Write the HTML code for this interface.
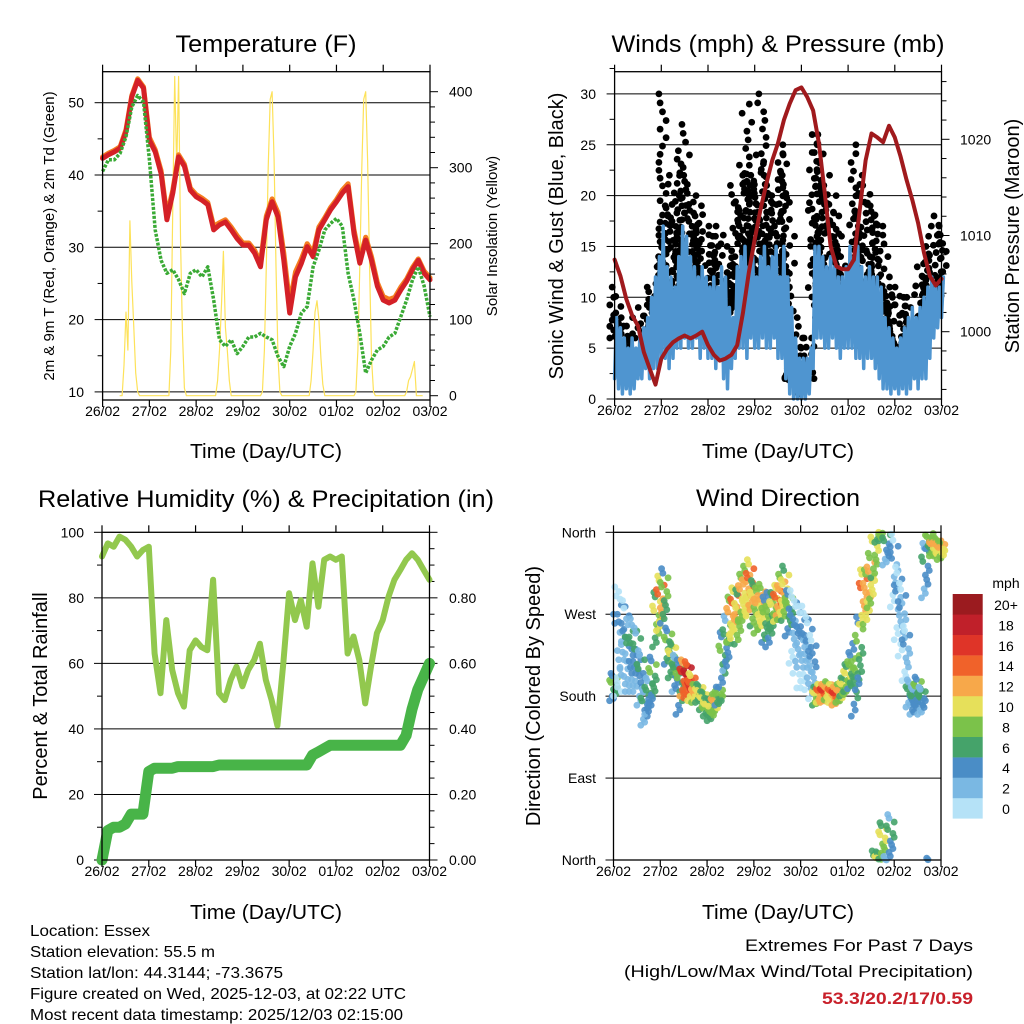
<!DOCTYPE html>
<html><head><meta charset="utf-8"><style>
html,body{margin:0;padding:0;background:#fff;}
svg{display:block;font-family:"Liberation Sans",sans-serif;}
</style></head><body>
<svg id="fig" width="1024" height="1024" viewBox="0 0 1024 1024" xmlns="http://www.w3.org/2000/svg">
<rect width="1024" height="1024" fill="#fff"/>
<g id="layer"></g>
</svg>
<script>
// ---------- DATA ----------
const dayLabels = ["26/02","27/02","28/02","29/02","30/02","01/02","02/02","03/02"];
const temp2m = [42.3,42.8,43.2,43.7,46,50.8,53.1,52,44.8,43.2,40.2,33.8,37.5,42.5,41.2,37.9,37,36.5,35.9,32.4,33.1,33.5,32.4,31.2,30.3,30.3,29.2,27.3,33.8,36.3,34.2,28.2,20.9,25.9,27.8,30.1,28.7,32.4,33.8,35.2,36.3,37.5,38.4,31.9,27.8,31,28.2,24.6,22.7,22.3,22.7,24.1,25.3,26.9,28.2,26.4,25.5];
const temp9m = [42.5,43,43.4,43.9,46.3,51,53.3,52.2,45.2,43.5,40.6,34.4,37.9,42.8,41.5,38.2,37.3,36.8,36.2,32.9,33.4,33.8,32.8,31.6,30.6,30.6,29.6,27.9,34.3,36.7,34.8,29.2,22.2,26.6,28.4,30.5,29.2,32.8,34.1,35.5,36.6,37.9,38.8,32.4,28.4,31.4,28.7,25.1,23.2,22.8,23.1,24.5,25.6,27.2,28.4,26.7,25.8];
const dewpt = [40.5,42.1,42.1,43,45.3,49.4,51,50.1,42.1,32.4,28.2,26.4,26.9,25.5,23.6,26.4,26.9,25.9,27.3,22.7,17.2,16.3,17.2,15.3,16.3,17.6,17.6,18.1,17.6,17.2,14.9,13.5,16.3,18.1,20.9,21.8,27.3,29.6,32.4,33.3,34,32.9,26.4,22.7,18.1,12.6,14.4,15.8,16.3,17.6,18.1,20.4,22.7,25.5,27.3,24.6,20.4];
const solar = [
 0,40,110,60,230,150,90,30,5,0,
 0,60,250,420,300,420,200,80,10,0,
 0,20,60,120,190,90,60,20,0,0,
 5,60,170,300,390,400,310,170,50,5,
 0,20,60,110,125,100,50,15,0,0,
 5,60,170,300,390,400,310,170,50,5,
 0,0,5,20,25,35,45,0,0,0];
const windHi = [8,7,6,5,6,5,6, 7,8,10,12,14,17, 13,12,11,14,17,16, 14,13,12,13,12,11, 12,11,13,12,9,8, 13,14,15,13,14,12, 14,15,13,14,15,12, 15,12,9,6,4,4, 4,5,15,15,14,13, 14,13,12,12,13,15, 14,15,13,12,13,12, 12,11,8,7,6,5, 6,7,8,9,8,9, 10,11,12,11,11,12];
const windLo = [2,1,0.5,1,0.5,1,2, 2,3,2,3,3,4, 4,3,4,5,5,6, 5,5,6,4,5,4, 4,3,4,2,1,3, 4,5,5,4,6,5, 5,6,5,5,6,4, 4,2,0.5,0,0,0, 0,0.5,3,6,6,5, 5,6,5,4,5,5, 5,4,4,3,4,4, 3,2,1,1,0.5,1, 0.5,1,0.5,1,2,1, 2,2,4,6,7,8];
const gustHi = [11,10,8,7,8,6,7, 9,9,11,13,14,30, 19,18,22,20,27,24, 22,20,18,19,17,16, 16,15,17,15,13,14, 21,22,23,29,22,21, 24,30,22,21,20,25, 24,22,16,8,5,6, 6,6,26,26,25,22, 21,20,18,16,14,13, 18,25,22,20,21,19, 18,17,14,12,11,10, 11,10,8,10,9,12, 13,15,16,17,18,17];
const gustLo = [6,5,4,3,4,3,4, 5,5,6,6,7,8, 9,8,9,10,11,12, 11,10,11,9,10,8, 8,7,8,6,5,6, 9,10,10,9,11,10, 11,11,10,10,11,9, 8,5,2,1,0.5,1, 1,2,8,11,11,10, 10,10,9,8,9,9, 9,9,8,7,8,8, 7,5,3,3,2,2, 2,3,2,3,4,3, 5,5,7,9,10,11];
const pressure = [1007.5,1005.8,1003.4,1001.7,1000.6,997.9,996.2,994.5,997.2,998.2,998.9,999.3,999.6,999.3,999.6,1000,998.6,997.6,997,997.2,997.6,998.6,1002,1006.2,1009.6,1012.7,1015.4,1017.8,1019.6,1022,1023.7,1025.1,1025.4,1024.4,1023,1019.6,1014.4,1008.9,1006.8,1006.5,1006.5,1007.5,1012.7,1017.8,1020.6,1020.2,1019.7,1021.4,1020.2,1018.2,1015.8,1013.7,1011.3,1008.2,1005.8,1004.8,1005.5];
const rh = [92.6,96.6,95.6,98.7,97.7,95.6,92.6,94.6,95.6,63,50.9,73.2,58,50.9,46.8,64,67,65,64,85.5,50.9,48.8,55,59,53,58,61,66,55,48.8,41,60,81.4,73.2,79.3,71.2,90.5,77.3,91.6,92.6,91.6,92.6,63,68.2,61,47.8,59,69.2,73.2,80.4,85.5,88.5,91.6,93.6,91.6,88.5,85.5];
const precip = [0,0.09,0.10,0.10,0.11,0.14,0.14,0.14,0.27,0.28,0.28,0.28,0.28,0.285,0.285,0.285,0.285,0.285,0.285,0.285,0.29,0.29,0.29,0.29,0.29,0.29,0.29,0.29,0.29,0.29,0.29,0.29,0.29,0.29,0.29,0.29,0.32,0.33,0.34,0.35,0.35,0.35,0.35,0.35,0.35,0.35,0.35,0.35,0.35,0.35,0.35,0.35,0.38,0.46,0.52,0.56,0.60];
const dirCenter = [190,240,245,235,225,225,220,200,168,180,198,264,282,290,235,220,205,190,200,198,190,183,183,175,168,165,172,180,220,238,264,274,267,289,293,300,282,274,278,264,264,274,282,289,293,271,256,245,234,234,227,212,180,183,183,186,183,180,183,190,200,208,198,227,289,289,307,340,359,21,344,25,318,282,264,227,183,175,186,175,318,352,344,344,340];
const dirSpread = [15,60,50,50,40,40,35,30,20,20,25,30,30,30,20,20,20,30,20,20,15,10,10,10,10,12,10,10,30,30,25,25,30,25,30,30,25,25,25,25,30,20,20,25,30,25,40,40,45,45,40,35,10,10,10,10,10,10,10,10,15,20,40,40,30,30,30,30,10,20,20,25,40,40,40,30,15,15,15,15,30,10,10,10,10];
const dirSpeed = [6,2,3,3,4,4,4,4,4,5,6,8,12,7,7,8,5,6,15,16,12,11,8,9,8,8,10,7,6,5,11,12,9,10,11,13,9,10,11,7,6,8,13,11,9,6,2,3,2,2,3,3,9,13,14,11,12,14,10,9,9,7,6,6,12,11,10,9,8,9,4,5,2,2,2,2,4,5,6,4,4,7,10,11,10];
const speedBinColors = ["#b5e2f7","#7ab8e3","#4a8dc6","#45a36a","#7bc24a","#e6e05a","#f7a84a","#f0622a","#df3428","#c0202a","#9b1b1f"];
const speedBinLabels = ["0","2","4","6","8","10","12","14","16","18","20+"];

// ---------- HELPERS ----------
const NS="http://www.w3.org/2000/svg";
const layer=document.getElementById('layer');
function mk(tag,attrs,parent){const e=document.createElementNS(NS,tag);for(const k in attrs)e.setAttribute(k,attrs[k]);(parent||layer).appendChild(e);return e;}
function txt(s,x,y,size,anchor,parent,extra){const e=mk('text',Object.assign({x:x,y:y,'font-size':size,'text-anchor':anchor||'start',fill:'#000'},extra||{}),parent);e.textContent=s;return e;}
function grp(name){const g=mk('g',{});return g;}
function jit(a,b){return ((a*a*5+a*3+b*7+ (a*b)%4)%9)-4;}

function panelFrame(g,P){
  mk('rect',{x:P.x0,y:P.y0,width:P.x1-P.x0,height:P.y1-P.y0,fill:'none',stroke:'#000','stroke-width':1.3},g);
  for(let d=0;d<=7;d++){const x=P.x0+(P.x1-P.x0)*d/7;
    mk('line',{x1:x,y1:P.y0,x2:x,y2:P.y0-7,stroke:'#000','stroke-width':1.2},g);
    mk('line',{x1:x,y1:P.y1,x2:x,y2:P.y1+7,stroke:'#000','stroke-width':1.2},g);
    const t=txt(dayLabels[d],x,P.y1+16,14,'middle',g);
    
    
  }
}
function tx(P,h){return P.x0+(P.x1-P.x0)*h/168;}
function poly(pts,attrs,g){return mk('polyline',Object.assign({points:pts.map(p=>p[0].toFixed(1)+','+p[1].toFixed(1)).join(' '),fill:'none','stroke-linejoin':'round','stroke-linecap':'round'},attrs),g);}

// ---------- PANEL 1 ----------
{
 const P={x0:102.6,x1:430,y0:71.7,y1:400};
 const yT=v=>102.7+(50-v)*7.23;
 const yS=v=>395.7-v*0.76;
 const g=grp('temperature-panel');
 txt('Temperature (F)',266,52,24,'middle',g,{textLength:181,lengthAdjust:'spacingAndGlyphs'});
 for(let v=10;v<=50;v+=10){const y=yT(v);mk('line',{x1:P.x0,y1:y,x2:P.x1,y2:y,stroke:'#000','stroke-width':1},g);
   mk('line',{x1:P.x0,y1:y,x2:P.x0-8,y2:y,stroke:'#000'},g);txt(String(v),84,y+5,14,'end',g);}
 for(let v=15;v<=55;v+=10){const y=yT(v);if(y>P.y0)mk('line',{x1:P.x0,y1:y,x2:P.x0-5,y2:y,stroke:'#000'},g);}
 for(let v=0;v<=400;v+=20){const y=yS(v);if(y<P.y0)continue;mk('line',{x1:P.x1,y1:y,x2:P.x1+(v%100?5:8),y2:y,stroke:'#000'},g);
   if(v%100===0)txt(String(v),449,y+5,14,'start',g);}
 const sp=[];
 for(let d=0;d<7;d++){sp.push([tx(P,d*24+9),yS(0)]);for(let k=0;k<10;k++)sp.push([tx(P,d*24+10+k),yS(solar[d*10+k])]);sp.push([tx(P,d*24+20),yS(0)]);}
 const sl=poly(sp,{stroke:'#fde25a','stroke-width':1.2},g);
 
 const pT=a=>a.map((v,i)=>[tx(P,i*3),yT(v)]);
 const o=poly(pT(temp9m),{stroke:'#f47d20','stroke-width':5},g);
 
 const r=poly(pT(temp2m),{stroke:'#d42027','stroke-width':5},g);
 
 const gr=poly(pT(dewpt),{stroke:'#3aaa35','stroke-width':3.5,'stroke-dasharray':'3,1.5','stroke-linecap':'butt'},g);
 
 panelFrame(g,P);
 txt('Time (Day/UTC)',266,458,20,'middle',g,{textLength:152,lengthAdjust:'spacingAndGlyphs'});
 txt('2m & 9m T (Red, Orange) & 2m Td (Green)',0,0,15,'middle',g,{transform:'translate(54,236) rotate(-90)'});
 txt('Solar Insolation (Yellow)',0,0,15,'middle',g,{transform:'translate(497,236) rotate(-90)'});
}

// ---------- PANEL 2 ----------
{
 const P={x0:614.6,x1:941.5,y0:71.7,y1:399};
 const yW=v=>399-v*10.17;
 const yP=v=>139.3+(1020-v)*9.62;
 const g=grp('winds-panel');
 txt('Winds (mph) & Pressure (mb)',778,52,24,'middle',g,{textLength:333,lengthAdjust:'spacingAndGlyphs'});
 for(let v=0;v<=30;v+=5){const y=yW(v);if(v>0)mk('line',{x1:P.x0,y1:y,x2:P.x1,y2:y,stroke:'#000','stroke-width':1},g);
   mk('line',{x1:P.x0,y1:y,x2:P.x0-8,y2:y,stroke:'#000'},g);txt(String(v),596,y+5,14,'end',g);}
 for(let v=2.5;v<=32.5;v+=5){mk('line',{x1:P.x0,y1:yW(v),x2:P.x0-5,y2:yW(v),stroke:'#000'},g);}
 for(let v=994;v<=1026;v+=2){const y=yP(v);if(y<P.y0||y>P.y1)continue;mk('line',{x1:P.x1,y1:y,x2:P.x1+(v%10?5:8),y2:y,stroke:'#000'},g);
   if(v%10===0)txt(String(v),960,y+5,14,'start',g);}
 const gd=mk('g',{},g);
 for(let i=0;i<gustHi.length;i++){const lo=gustLo[i],hi=gustHi[i];const n=Math.max(3,Math.round((hi-lo)/0.6));
   for(let j=0;j<=n;j++){const s=lo+(hi-lo)*Math.pow(j/n,1.5);const x=tx(P,i*2)+jit(j,i)*1.2;
     mk('circle',{cx:x,cy:yW(s),r:3.4,fill:'#000'},gd);}}
 const wp=[];for(let i=0;i<windHi.length;i++){wp.push([tx(P,i*2),yW(windLo[i])]);wp.push([tx(P,i*2+1),yW(windHi[i])]);}
 const wl=poly(wp,{stroke:'#4f95d0','stroke-width':3.5},g);
 
 const pl=poly(pressure.map((v,i)=>[tx(P,i*3),yP(v)]),{stroke:'#a01a1d','stroke-width':4},g);
 
 panelFrame(g,P);
 txt('Time (Day/UTC)',778,458,20,'middle',g,{textLength:152,lengthAdjust:'spacingAndGlyphs'});
 txt('Sonic Wind & Gust (Blue, Black)',0,0,20,'middle',g,{transform:'translate(563,236) rotate(-90)'});
 txt('Station Pressure (Maroon)',0,0,20,'middle',g,{transform:'translate(1019,236) rotate(-90)'});
}

// ---------- PANEL 3 ----------
{
 const P={x0:102,x1:429.5,y0:532.3,y1:860};
 const yR=v=>860-v*3.277;
 const g=grp('humidity-precip-panel');
 txt('Relative Humidity (%) & Precipitation (in)',266,507,24,'middle',g,{textLength:456,lengthAdjust:'spacingAndGlyphs'});
 for(let v=0;v<=100;v+=20){const y=yR(v);if(v>0&&v<100)mk('line',{x1:P.x0,y1:y,x2:P.x1,y2:y,stroke:'#000','stroke-width':1},g);
   mk('line',{x1:P.x0,y1:y,x2:P.x0-8,y2:y,stroke:'#000'},g);txt(String(v),84,y+5,14,'end',g);}
 for(let v=10;v<=90;v+=20)mk('line',{x1:P.x0,y1:yR(v),x2:P.x0-5,y2:yR(v),stroke:'#000'},g);
 for(let v=0;v<=100;v+=5){const y=yR(v);mk('line',{x1:P.x1,y1:y,x2:P.x1+(v%20?5:8),y2:y,stroke:'#000'},g);
   if(v%20===0&&v<100)txt((v/100).toFixed(2),449,y+5,14,'start',g);}
 const rl=poly(rh.map((v,i)=>[tx(P,i*3),yR(v)]),{stroke:'#92c84e','stroke-width':6},g);
 
 const pl=poly(precip.map((v,i)=>[tx(P,i*3),yR(v*100)]),{stroke:'#48b448','stroke-width':11},g);
 
 panelFrame(g,P);
 txt('Time (Day/UTC)',266,919,20,'middle',g,{textLength:152,lengthAdjust:'spacingAndGlyphs'});
 txt('Percent & Total Rainfall',0,0,20,'middle',g,{transform:'translate(47,696) rotate(-90)'});
}

// ---------- PANEL 4 ----------
{
 const P={x0:613.5,x1:941,y0:532.3,y1:860};
 const yD=v=>860-v*(327.7/360);
 const g=grp('wind-direction-panel');
 txt('Wind Direction',778,506,24,'middle',g,{textLength:164,lengthAdjust:'spacingAndGlyphs'});
 const dl=['North','East','South','West','North'];
 for(let k=0;k<=4;k++){const y=yD(k*90);if(k>0&&k<4)mk('line',{x1:P.x0,y1:y,x2:P.x1,y2:y,stroke:'#000','stroke-width':1},g);
   mk('line',{x1:P.x0,y1:y,x2:P.x0-8,y2:y,stroke:'#000'},g);txt(dl[k],596,y+5,14,'end',g);}
 const dd=mk('g',{},g);
 const NJ=13;
 for(let i=0;i<dirCenter.length;i++){for(let j=0;j<NJ;j++){
   const f=-1+2*((j*5)%NJ)/(NJ-1);
   let d=dirCenter[i]+dirSpread[i]*f;if(d<0)d+=360;if(d>360)d-=360;
   const s=Math.max(0,dirSpeed[i]+((j*7)%5-2));const b=Math.min(10,Math.floor(s/2));
   const x=tx(P,i*2)+(((j*3)%7)-3)*1.3;
   mk('circle',{cx:x,cy:yD(d),r:3.4,fill:speedBinColors[b],'fill-opacity':0.9},dd);}}
 panelFrame(g,P);
 txt('Time (Day/UTC)',778,919,20,'middle',g,{textLength:152,lengthAdjust:'spacingAndGlyphs'});
 txt('Direction (Colored By Speed)',0,0,20,'middle',g,{transform:'translate(540,696) rotate(-90)'});
 const cb=grp('speed-colorbar');
 txt('mph',1006,588,14,'middle',cb);
 for(let k=0;k<11;k++){const y=594+(10-k)*20.4;
   const r=mk('rect',{x:952.7,y:y,width:30,height:20.6,fill:speedBinColors[k]},cb);
   
   
   txt(speedBinLabels[k],1006,y+16,14,'middle',cb);}
}

// ---------- FOOTER ----------
{
 const g=grp('station-info');
 const lines=['Location: Essex','Station elevation: 55.5 m','Station lat/lon: 44.3144; -73.3675','Figure created on Wed, 2025-12-03, at 02:22 UTC','Most recent data timestamp: 2025/12/03 02:15:00'];
 const lens=[120,185,253,376,373];
 lines.forEach((s,i)=>{txt(s,30,936+i*21,16,'start',g,{textLength:lens[i],lengthAdjust:'spacingAndGlyphs'});});
 const e=grp('extremes-summary');
 txt('Extremes For Past 7 Days',973,951,17,'end',e,{textLength:228,lengthAdjust:'spacingAndGlyphs'});
 txt('(High/Low/Max Wind/Total Precipitation)',973,977,17,'end',e,{textLength:349,lengthAdjust:'spacingAndGlyphs'});
 txt('53.3/20.2/17/0.59',973,1004,17,'end',e,{'font-weight':'bold',fill:'#c8202a',textLength:151,lengthAdjust:'spacingAndGlyphs'});
}
</script>
</body></html>
